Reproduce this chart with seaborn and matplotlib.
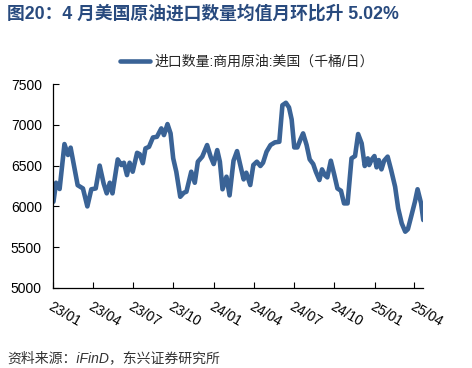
import pandas as pd
import seaborn as sns
import matplotlib.pyplot as plt
import matplotlib.dates as mdates

# US commercial crude oil imports, thousand barrels/day
dates = [
    '2023-01-02', '2023-01-08', '2023-01-16', '2023-01-27', '2023-02-04', '2023-02-10',
    '2023-02-26', '2023-03-10', '2023-03-20', '2023-03-29', '2023-04-08', '2023-04-17',
    '2023-04-26', '2023-05-03', '2023-05-10', '2023-05-16', '2023-05-28', '2023-06-05',
    '2023-06-11', '2023-06-18', '2023-06-24', '2023-07-01', '2023-07-11', '2023-07-17',
    '2023-07-24', '2023-07-30', '2023-08-07', '2023-08-16', '2023-08-25', '2023-09-04',
    '2023-09-10', '2023-09-18', '2023-09-25', '2023-10-01', '2023-10-08', '2023-10-17',
    '2023-10-25', '2023-10-31', '2023-11-11', '2023-11-19', '2023-11-26', '2023-12-06',
    '2023-12-17', '2023-12-25', '2024-01-01', '2024-01-09', '2024-01-15', '2024-01-21',
    '2024-01-30', '2024-02-06', '2024-02-15', '2024-02-23', '2024-03-04', '2024-03-09',
    '2024-03-15', '2024-03-24', '2024-03-31', '2024-04-08', '2024-04-16', '2024-04-22',
    '2024-04-30', '2024-05-09', '2024-05-19', '2024-05-29', '2024-06-05', '2024-06-13',
    '2024-06-20', '2024-06-26', '2024-07-02', '2024-07-09', '2024-07-16', '2024-07-22',
    '2024-07-30', '2024-08-06', '2024-08-14', '2024-08-20', '2024-08-28', '2024-09-03',
    '2024-09-10', '2024-09-15', '2024-09-23', '2024-10-01', '2024-10-08', '2024-10-16',
    '2024-10-23', '2024-10-31', '2024-11-09', '2024-11-17', '2024-11-24', '2024-12-02',
    '2024-12-09', '2024-12-16', '2024-12-19', '2024-12-25', '2024-12-31', '2025-01-05',
    '2025-01-10', '2025-01-16', '2025-01-22', '2025-01-30', '2025-02-07', '2025-02-16',
    '2025-02-23', '2025-03-03', '2025-03-11', '2025-03-17', '2025-03-24', '2025-04-02',
    '2025-04-08', '2025-04-16', '2025-04-21',
]
imports = [
    6057, 6290, 6213, 6764, 6630, 6720,
    6260, 6220, 6000, 6210, 6220, 6500,
    6280, 6160, 6290, 6160, 6576, 6507,
    6535, 6384, 6535, 6425, 6657, 6640,
    6530, 6711, 6730, 6845, 6853, 6956,
    6874, 7009, 6895, 6589, 6425, 6118,
    6167, 6180, 6425, 6290, 6548, 6610,
    6752, 6610, 6519, 6690, 6548, 6210,
    6364, 6135, 6560, 6678, 6445, 6331,
    6413, 6262, 6507, 6548, 6495, 6535,
    6670, 6752, 6785, 6792, 7240, 7270,
    7213, 7066, 6723, 6723, 6821, 6895,
    6752, 6576, 6519, 6425, 6323, 6454,
    6380, 6356, 6560, 6384, 6220, 6192,
    6037, 6037, 6589, 6617, 6887, 6773,
    6495, 6589, 6507, 6576, 6617, 6479,
    6568, 6454, 6560, 6610, 6445, 6241,
    5976, 5792, 5690, 5720, 5866, 6057,
    6210, 6037, 5833,
]
series_name = '进口数量:商用原油:美国（千桶/日）'
title = '图20：4 月美国原油进口数量均值月环比升 5.02%'
source = '资料来源：iFinD，东兴证券研究所'

sns.set_theme(style='ticks')
plt.rcParams['font.family'] = ['Liberation Sans', 'Noto Sans CJK SC']

df = pd.DataFrame({'date': pd.to_datetime(dates), 'value': imports})

fig = plt.figure(figsize=(4.72, 3.68), dpi=100)
ax = fig.add_axes([0.1123, 0.2174, 0.7845, 0.5543])

sns.lineplot(data=df, x='date', y='value', color='#3a6396', linewidth=3.3,
             label=series_name, ax=ax)

ax.set_xlim(pd.Timestamp('2023-01-01'), pd.Timestamp('2025-04-21'))
ax.set_ylim(5000, 7500)
ax.set_yticks([5000, 5500, 6000, 6500, 7000, 7500])
ax.set_xticks(pd.date_range('2023-01-01', '2025-04-01', freq='QS'))
ax.xaxis.set_major_formatter(mdates.DateFormatter('%y/%m'))
ax.set_xlabel('')
ax.set_ylabel('')

sns.despine(ax=ax)
for s in ['left', 'bottom']:
    ax.spines[s].set_color('black')
    ax.spines[s].set_linewidth(0.9)
ax.tick_params(direction='in', length=4, width=0.8, colors='black',
               labelsize=10, pad=8)
for lab in ax.get_xticklabels():
    lab.set_rotation(-30)
    lab.set_ha('left')
    lab.set_va('top')
    lab.set_rotation_mode('anchor')

ax.legend(loc='center', bbox_to_anchor=(0.524, 1.108), frameon=False,
          fontsize=10, handlelength=2.2, handletextpad=0.3)

fig.text(0.015, 0.962, title, fontsize=12.8, fontweight='bold',
         color='#284a7e', va='center', ha='left')
fig.text(0.015, 0.027, source, fontsize=10, style='italic',
         color='#333333', va='center', ha='left')

fig.savefig('out.png', dpi=100)
